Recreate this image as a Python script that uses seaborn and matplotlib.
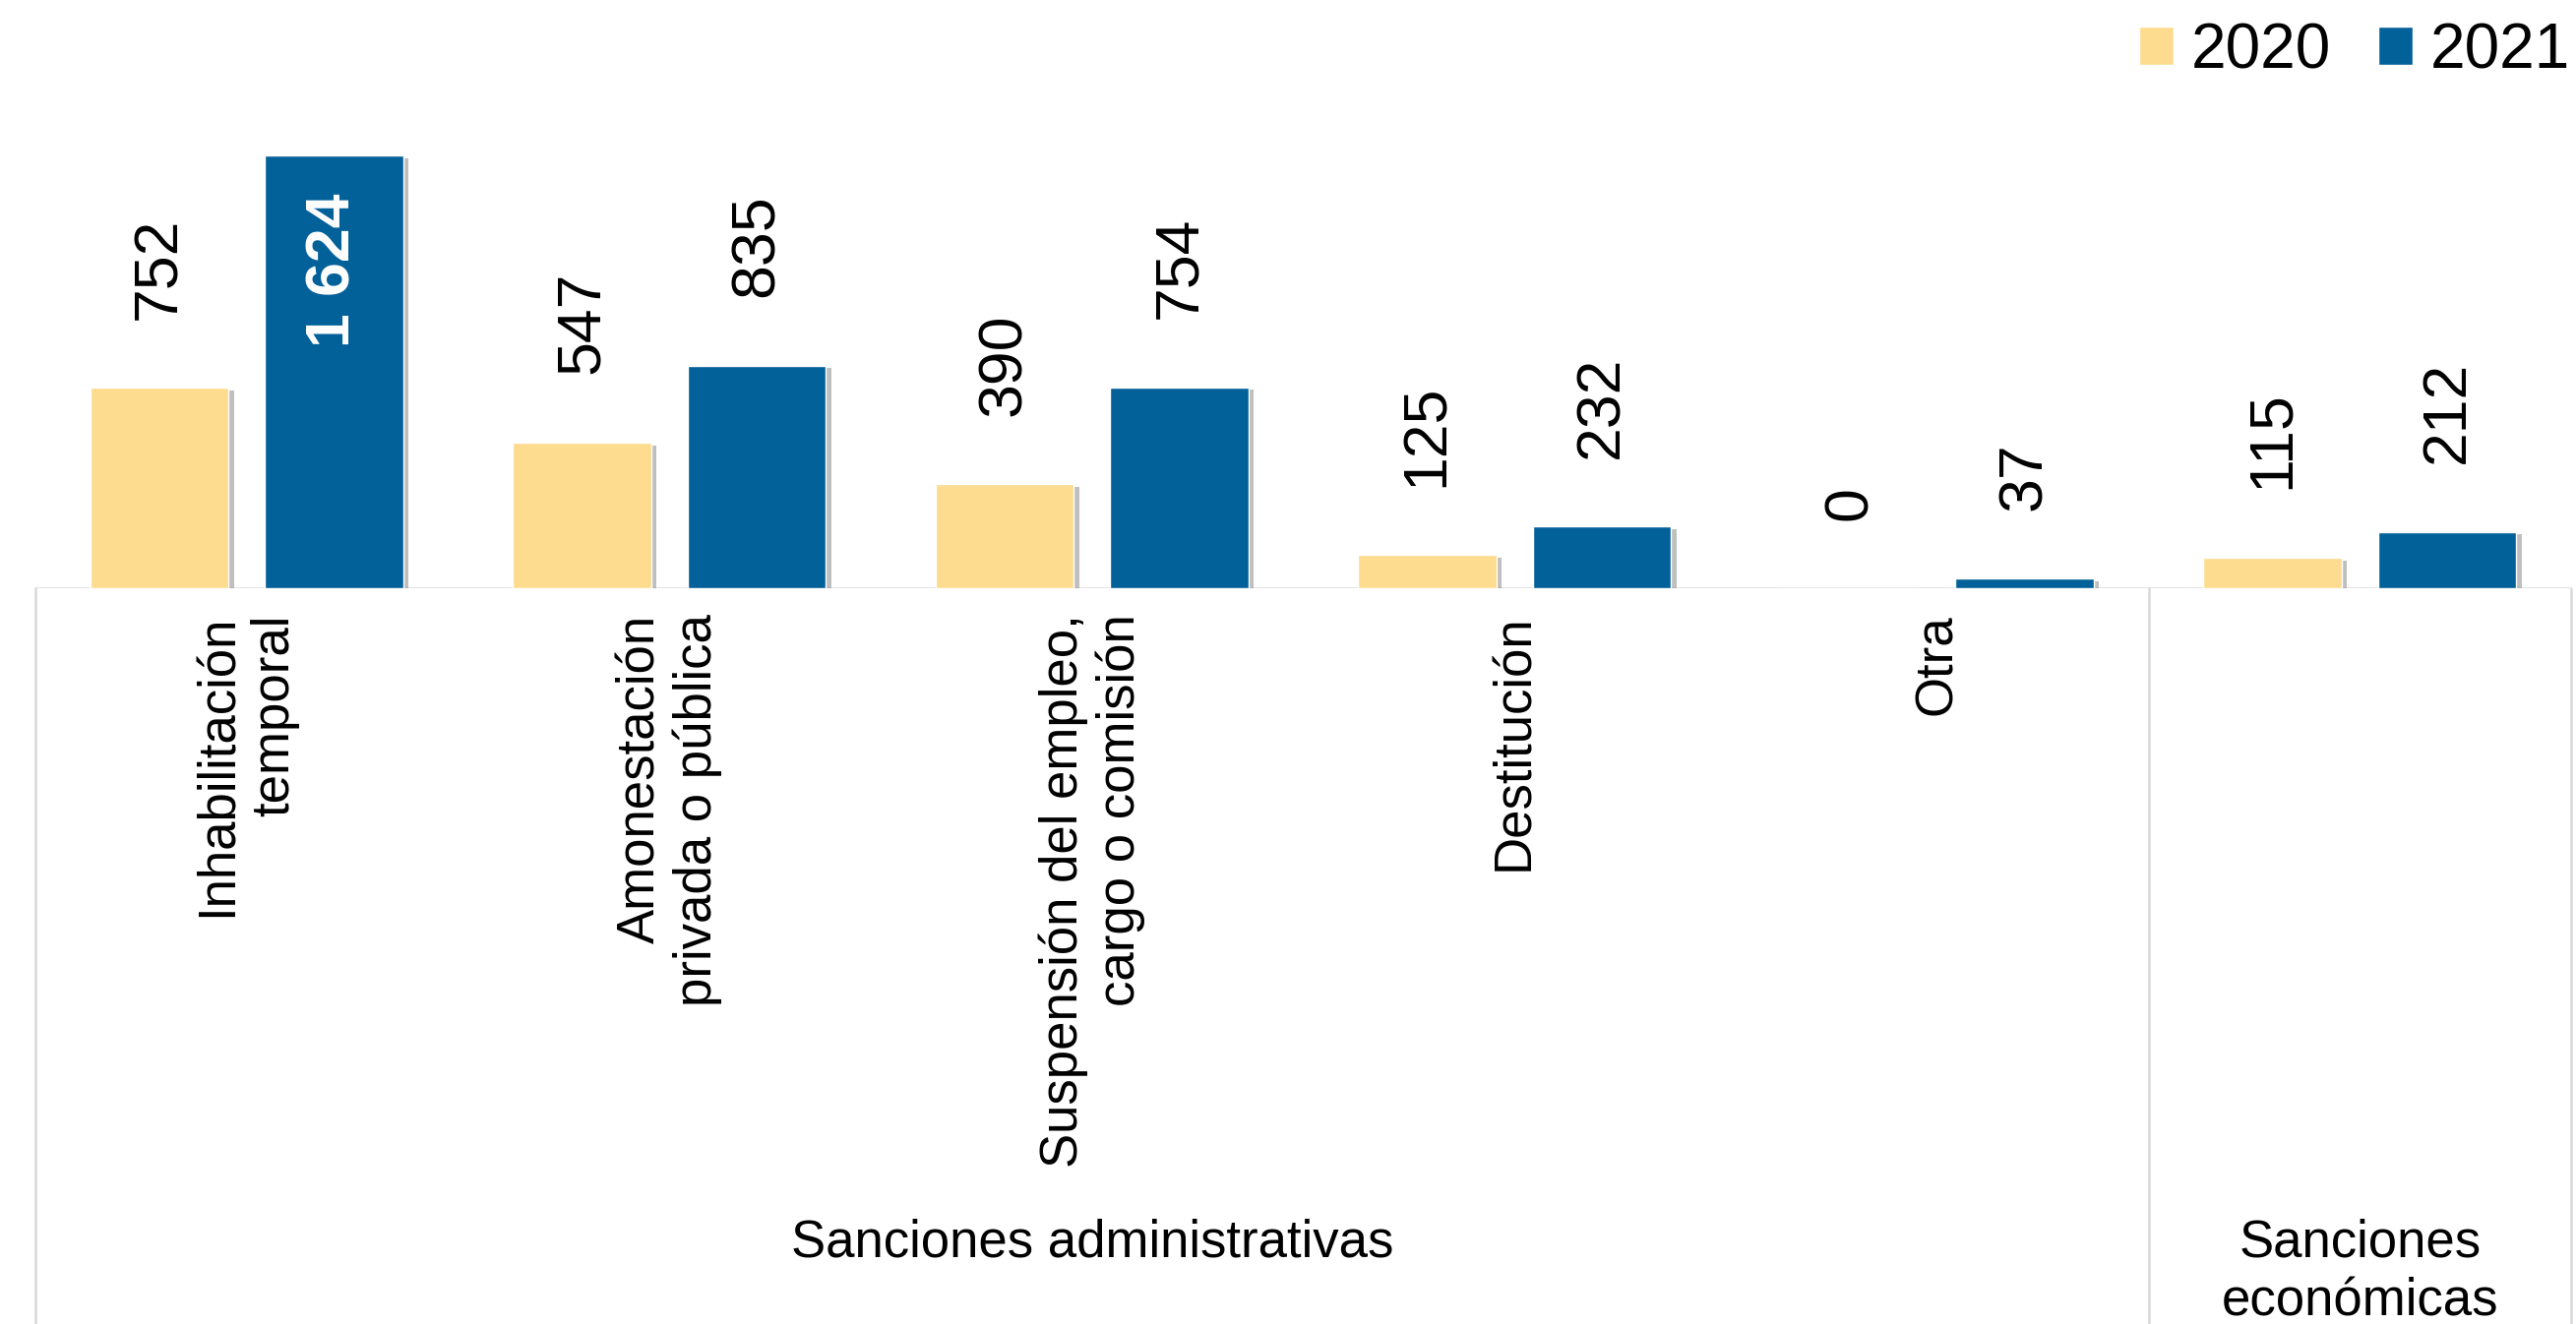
import matplotlib
matplotlib.use("Agg")
import matplotlib.pyplot as plt
import matplotlib.patheffects as pe
import matplotlib.transforms as mtransforms
import pandas as pd
import seaborn as sns

# datos
categorias = ["Inhabilitación temporal", "Amonestación privada o pública",
              "Suspensión del empleo, cargo o comisión", "Destitución", "Otra",
              "Sanciones económicas"]
etiquetas = ["Inhabilitación\ntemporal", "Amonestación\nprivada o pública",
             "Suspensión del empleo,\ncargo o comisión", "Destitución", "Otra", ""]
valores_2020 = [752, 547, 390, 125, 0, 115]
valores_2021 = [1624, 835, 754, 232, 37, 212]
anios = ["2020", "2021"]
grupos = ["Sanciones administrativas", "Sanciones\neconómicas"]
grupo_centro = [2.0, 5.0]
separadores = [-0.5, 4.5, 5.5]
colores = ["#FDDC8F", "#03619A"]

df = pd.DataFrame({
    "sancion": categorias * 2,
    "total": valores_2020 + valores_2021,
    "anio": [anios[0]] * len(categorias) + [anios[1]] * len(categorias),
})

sns.set_style("white")
plt.rcParams["font.family"] = ["Liberation Sans", "DejaVu Sans"]
plt.rcParams["text.color"] = "black"

W, H = 2618, 1346
fig = plt.figure(figsize=(W / 100, H / 100), dpi=100)
base_y = 598
ax = fig.add_axes([36 / W, (H - base_y) / H, (2613 - 36) / W, base_y / H])

sns.barplot(data=df, x="sancion", y="total", hue="anio", order=categorias,
            hue_order=anios, palette=colores, saturation=1, width=0.826,
            gap=0.21, errorbar=None, ax=ax)

ax.set_xlim(-0.5, 5.5)
ax.set_ylim(0, base_y / 0.271)
ax.set_xticks([])
ax.set_yticks([])
ax.set_xlabel("")
ax.set_ylabel("")
for s in ax.spines.values():
    s.set_visible(False)

# sombra de las barras
for cont in ax.containers:
    for p in cont:
        p.set_path_effects([pe.SimplePatchShadow(offset=(4, -2), shadow_rgbFace="0.45", alpha=0.45),
                            pe.Normal()])

# etiquetas de valor
serie_vals = [valores_2020, valores_2021]
for cont, vals in zip(ax.containers, serie_vals):
    for p, v in zip(cont, vals):
        txt = f"{v:,}".replace(",", " ")
        xc = p.get_x() + p.get_width() / 2
        if v > 1000:
            ax.annotate(txt, (xc, v), xytext=(0, -28), textcoords="offset points",
                        rotation=90, ha="center", va="top", fontsize=45,
                        fontweight="bold", color="white")
        else:
            ax.annotate(txt, (xc, v), xytext=(0, 50), textcoords="offset points",
                        rotation=90, ha="center", va="bottom", fontsize=45,
                        color="black")

# lineas del eje de categorias
gris = "#D9D9D9"
ax.axhline(0, color=gris, lw=1.8, zorder=0.5)
trans = mtransforms.blended_transform_factory(ax.transData, fig.transFigure)
for xs in separadores:
    ax.plot([xs, xs], [(H - base_y) / H, 0], color=gris, lw=1.8,
            transform=trans, clip_on=False)

# etiquetas de categoria
for i, lab in enumerate(etiquetas):
    if lab:
        ax.annotate(lab, (i, 0), xycoords=("data", "axes fraction"),
                    xytext=(0, -19), textcoords="offset points", rotation=90,
                    ha="center", va="top", multialignment="right", fontsize=38)

for g, xc in zip(grupos, grupo_centro):
    ax.text(xc, (H - 1238) / H, g, transform=trans, ha="center", va="top",
            fontsize=38, linespacing=1.28)

handles, labels = ax.get_legend_handles_labels()
ax.legend(handles, labels, loc="center right", bbox_to_anchor=(2612 / W, 1 - 52 / H),
          bbox_transform=fig.transFigure, ncol=2, frameon=False, fontsize=46,
          handlelength=0.55, handleheight=0.55, handletextpad=0.28,
          columnspacing=0.75, borderpad=0, borderaxespad=0)

fig.savefig("out.png", dpi=100)
